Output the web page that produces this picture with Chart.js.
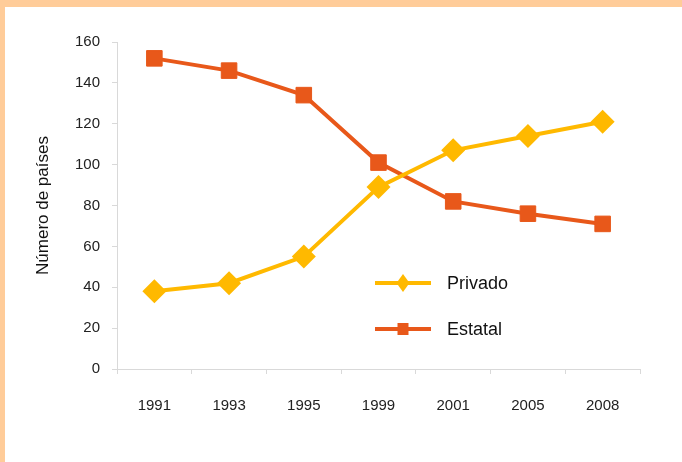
<!DOCTYPE html>
<html>
<head>
<meta charset="utf-8">
<script src="https://cdn.jsdelivr.net/npm/chart.js@4"></script>
<style>
  html, body { margin: 0; padding: 0; background: #fff; }
  #moldura {
    width: 682px; height: 462px; box-sizing: border-box;
    border-top: 7px solid #ffcc99; border-left: 5px solid #ffcc99;
    background: #fff;
  }
  #grafico { display: block; }
</style>
</head>
<body>
<div id="moldura"><canvas id="grafico" width="677" height="455"></canvas></div>
<script>
const anos = ['1991', '1993', '1995', '1999', '2001', '2005', '2008'];
const privado = [38, 42, 55, 89, 107, 114, 121];
const estatal = [152, 146, 134, 101, 82, 76, 71];
const ticksY = [0, 20, 40, 60, 80, 100, 120, 140, 160];

const corPrivado = '#ffb900';
const corEstatal = '#e8581a';
const cinza = '#d9d9d9';

// legenda desenhada dentro da area do grafico
const legendaInterna = {
    id: 'legendaInterna',
    afterDatasetsDraw(chart) {
        const c = chart.ctx;
        const itens = chart.data.datasets;
        const x0 = 370, x1 = 426, xt = 442;
        const ys = [276, 322];
        c.save();
        itens.forEach((ds, i) => {
            const y = ys[i];
            const xm = (x0 + x1) / 2;
            c.strokeStyle = ds.borderColor;
            c.lineWidth = 4;
            c.beginPath();
            c.moveTo(x0, y);
            c.lineTo(x1, y);
            c.stroke();
            c.fillStyle = ds.borderColor;
            c.beginPath();
            if (ds.pointStyle === 'rectRot') {
                c.moveTo(xm, y - 9);
                c.lineTo(xm + 6.5, y);
                c.lineTo(xm, y + 9);
                c.lineTo(xm - 6.5, y);
                c.closePath();
            } else {
                c.rect(xm - 5.5, y - 6, 11, 12);
            }
            c.fill();
            c.fillStyle = '#111';
            c.font = '18px "Liberation Sans", Arial, sans-serif';
            c.textAlign = 'left';
            c.textBaseline = 'middle';
            c.fillText(ds.label, xt, y + 1);
        });
        c.restore();
    }
};

const ctx = document.getElementById('grafico').getContext('2d');

const grafico = new Chart(ctx, {
    type: 'line',
    data: {
        labels: anos,
        datasets: [{
            label: 'Privado',
            data: privado,
            borderColor: corPrivado,
            backgroundColor: corPrivado,
            borderWidth: 4,
            pointStyle: 'rectRot',
            pointRadius: 12,
            pointHoverRadius: 12,
            pointBorderWidth: 0,
            tension: 0
        }, {
            label: 'Estatal',
            data: estatal,
            borderColor: corEstatal,
            backgroundColor: corEstatal,
            borderWidth: 4,
            pointStyle: 'rect',
            pointRadius: 11,
            pointHoverRadius: 11,
            pointBorderWidth: 1,
            tension: 0
        }]
    },
    options: {
        responsive: false,
        animation: false,
        clip: false,
        layout: {
            padding: { left: 0, top: 35, right: 42, bottom: 0 }
        },
        plugins: {
            legend: { display: false },
            title: { display: false },
            tooltip: { enabled: false }
        },
        scales: {
            x: {
                offset: true,
                afterFit(scale) { scale.height = 93; },
                grid: {
                    offset: true,
                    drawOnChartArea: false,
                    drawTicks: true,
                    tickLength: 5,
                    color: cinza
                },
                border: { color: cinza, width: 1 },
                ticks: {
                    color: '#222',
                    padding: 23,
                    maxRotation: 0,
                    font: { family: '"Liberation Sans", Arial, sans-serif', size: 15 }
                }
            },
            y: {
                min: 0,
                max: 160,
                afterFit(scale) { scale.width = 112; },
                afterBuildTicks(scale) {
                    scale.ticks = ticksY.map(v => ({ value: v }));
                },
                grid: {
                    drawOnChartArea: false,
                    drawTicks: true,
                    tickLength: 5,
                    color: cinza
                },
                border: { color: cinza, width: 1 },
                ticks: {
                    color: '#222',
                    padding: 12,
                    font: { family: '"Liberation Sans", Arial, sans-serif', size: 15 }
                },
                title: {
                    display: true,
                    text: 'Número de países',
                    color: '#111',
                    padding: { top: 28, bottom: 0 },
                    font: { family: '"Liberation Sans", Arial, sans-serif', size: 17 }
                }
            }
        }
    },
    plugins: [legendaInterna]
});
</script>
</body>
</html>
